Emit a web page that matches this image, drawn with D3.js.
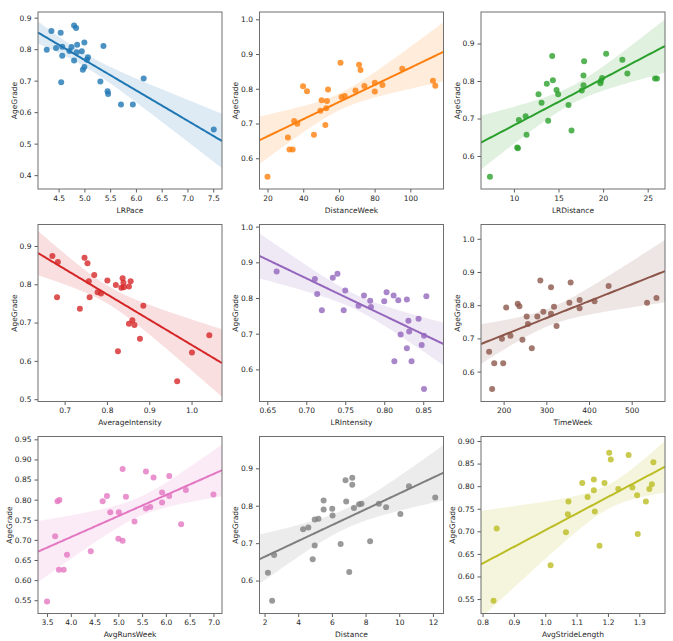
<!DOCTYPE html>
<html><head><meta charset="utf-8">
<script src="https://cdn.jsdelivr.net/npm/d3@7"></script>
<style>
body{margin:0;background:#fff;}
text{font-family:"DejaVu Sans",sans-serif;}
</style></head>
<body><svg id="c" width="673" height="641"></svg>
<script>
// ---- data ----
const lrPaceX = [4.36,4.54,4.80,4.84,4.27,4.45,4.57,4.57,4.55,4.75,4.71,4.86,4.85,4.95,5.00,4.80,4.97,5.00,5.05,5.07,5.37,5.31,5.45,5.46,5.71,5.94,6.15,7.51];
const lrPaceY = [0.858,0.852,0.875,0.867,0.798,0.804,0.808,0.779,0.695,0.807,0.794,0.814,0.790,0.793,0.821,0.764,0.735,0.743,0.766,0.774,0.810,0.697,0.666,0.658,0.624,0.624,0.707,0.545];
const distWeekX = [20.0,31.4,32.3,34.1,34.9,36.7,39.9,42.1,46.0,49.6,50.3,52.4,52.9,53.3,53.9,60.9,61.5,63.3,69.3,71.3,72.1,74.3,80.1,80.1,84.4,95.5,112.7,114.0];
const distWeekY = [0.547,0.660,0.625,0.625,0.707,0.699,0.807,0.793,0.668,0.737,0.767,0.696,0.744,0.765,0.798,0.875,0.776,0.779,0.795,0.869,0.854,0.808,0.817,0.792,0.811,0.858,0.823,0.809];
const lrDistX = [7.31,10.37,10.45,10.56,11.31,11.42,12.76,13.10,13.69,13.84,14.29,14.37,14.78,14.96,16.12,16.46,17.61,17.80,17.80,17.87,19.70,19.74,19.89,20.34,22.16,22.72,25.82,26.04];
const lrDistY = [0.545,0.623,0.621,0.696,0.706,0.657,0.765,0.742,0.793,0.694,0.867,0.802,0.776,0.765,0.736,0.668,0.775,0.789,0.815,0.853,0.794,0.800,0.808,0.873,0.857,0.820,0.807,0.807];
const avgIntX = [0.671,0.684,0.682,0.736,0.747,0.754,0.757,0.759,0.770,0.778,0.786,0.801,0.821,0.826,0.834,0.837,0.839,0.840,0.852,0.856,0.852,0.860,0.865,0.878,0.886,0.966,1.001,1.042];
const avgIntY = [0.874,0.858,0.766,0.736,0.869,0.855,0.808,0.766,0.824,0.779,0.776,0.810,0.798,0.625,0.791,0.816,0.804,0.792,0.794,0.808,0.697,0.706,0.694,0.658,0.744,0.547,0.622,0.667];
const lrIntX = [0.662,0.711,0.714,0.720,0.734,0.740,0.750,0.748,0.767,0.774,0.782,0.783,0.800,0.803,0.812,0.818,0.829,0.813,0.821,0.831,0.832,0.829,0.835,0.844,0.848,0.851,0.854,0.851];
const lrIntY = [0.874,0.853,0.811,0.766,0.857,0.868,0.821,0.766,0.778,0.807,0.792,0.775,0.791,0.816,0.807,0.794,0.796,0.623,0.698,0.736,0.706,0.659,0.623,0.742,0.668,0.694,0.805,0.545];
const timeWeekX = [166,173,178,199,196,206,216,233,237,244,254,257,266,279,286,293,311,311,318,324,354,357,378,378,413,446,536,558];
const timeWeekY = [0.660,0.548,0.625,0.625,0.699,0.793,0.708,0.804,0.797,0.696,0.766,0.743,0.670,0.766,0.874,0.780,0.774,0.854,0.795,0.737,0.807,0.868,0.816,0.791,0.812,0.858,0.807,0.822];
const runsWeekX = [3.50,3.67,3.72,3.76,3.75,3.85,3.92,4.42,4.67,4.76,4.83,5.01,5.00,5.09,5.09,5.16,5.34,5.58,5.74,5.58,5.67,5.92,5.92,6.07,6.07,6.32,6.42,7.00];
const runsWeekY = [0.547,0.709,0.796,0.799,0.626,0.626,0.663,0.672,0.796,0.809,0.769,0.769,0.703,0.698,0.876,0.807,0.746,0.870,0.855,0.778,0.782,0.818,0.793,0.859,0.809,0.739,0.824,0.813];
const distanceX = [2.20,2.45,2.57,4.29,4.60,4.86,4.98,4.98,5.20,5.51,5.51,6.02,6.04,6.52,6.81,6.85,7.03,7.21,7.21,7.31,7.62,7.76,8.27,8.79,9.22,10.07,10.58,12.14];
const distanceY = [0.621,0.546,0.668,0.737,0.742,0.657,0.763,0.694,0.765,0.814,0.790,0.792,0.774,0.698,0.868,0.811,0.623,0.875,0.856,0.794,0.804,0.805,0.705,0.805,0.796,0.778,0.852,0.822];
const strideX = [0.835,0.845,1.017,1.066,1.072,1.074,1.118,1.135,1.155,1.155,1.158,1.173,1.189,1.204,1.209,1.233,1.266,1.278,1.293,1.295,1.321,1.332,1.340,1.345];
const strideY = [0.546,0.706,0.625,0.698,0.738,0.766,0.807,0.776,0.815,0.791,0.744,0.668,0.807,0.874,0.859,0.794,0.869,0.797,0.780,0.694,0.766,0.794,0.804,0.853];

const xLabels = ["LRPace","DistanceWeek","LRDistance","AverageIntensity","LRIntensity","TimeWeek","AvgRunsWeek","Distance","AvgStrideLength"];
const xTickVals = [
  [4.5,5.0,5.5,6.0,6.5,7.0,7.5],[20,40,60,80,100],[10,15,20,25],
  [0.7,0.8,0.9,1.0],[0.65,0.70,0.75,0.80,0.85],[200,300,400,500],
  [3.5,4.0,4.5,5.0,5.5,6.0,6.5,7.0],[2,4,6,8,10,12],[0.8,0.9,1.0,1.1,1.2,1.3]];
const yTickVals = [
  [0.4,0.5,0.6,0.7,0.8,0.9],[0.6,0.7,0.8,0.9,1.0],[0.6,0.7,0.8,0.9],
  [0.5,0.6,0.7,0.8,0.9],[0.6,0.7,0.8,0.9,1.0],[0.6,0.7,0.8,0.9,1.0],
  [0.55,0.60,0.65,0.70,0.75,0.80,0.85,0.90,0.95],[0.6,0.7,0.8,0.9],[0.55,0.60,0.65,0.70,0.75,0.80,0.85,0.90]];
const xFormats = [".1f","d","d",".1f",".2f","d",".1f","d",".1f"];
const yFormats = [".1f",".1f",".1f",".1f",".1f",".1f",".2f",".1f",".2f"];
const seriesX = [lrPaceX,distWeekX,lrDistX,avgIntX,lrIntX,timeWeekX,runsWeekX,distanceX,strideX];
const seriesY = [lrPaceY,distWeekY,lrDistY,avgIntY,lrIntY,timeWeekY,runsWeekY,distanceY,strideY];

// ---- layout ----
const colors = ["#1f77b4","#ff7f0e","#2ca02c","#d62728","#9467bd","#8c564b","#e377c2","#7f7f7f","#bcbd22"];
const xDomains = [[4.10,7.67],[15.5,118.6],[6.31,26.94],[0.637,1.072],[0.640,0.876],[147,578],[3.31,7.18],[1.70,12.63],[0.795,1.382]];
const yDomains = [[0.356,0.918],[0.5115,1.021],[0.512,0.984],[0.494,0.956],[0.510,1.006],[0.51,1.043],[0.517,0.957],[0.512,0.985],[0.518,0.910]];
const colLeft = [38,259.5,481], rowTop = [12,224.5,436.5], W = 184, H = 177;
const FS = 7.5;

const svg = d3.select("#c");

// OLS fit with heteroscedasticity-robust (HC3) covariance, approximating a pairs bootstrap band
function fit(xs, ys){
  const n = xs.length, mx = d3.mean(xs), my = d3.mean(ys);
  let sxx=0, sxy=0;
  for(let i=0;i<n;i++){sxx+=(xs[i]-mx)**2; sxy+=(xs[i]-mx)*(ys[i]-my);}
  const b = sxy/sxx, a = my-b*mx;
  let m00=0, m01=0, m11=0;
  for(let i=0;i<n;i++){
    const d = xs[i]-mx, e = ys[i]-a-b*xs[i];
    const h = 1/n + d*d/sxx;
    const w = e*e/((1-h)*(1-h));
    m00 += w; m01 += w*d; m11 += w*d*d;
  }
  const v00 = m00/(n*n), v01 = m01/(n*sxx), v11 = m11/(sxx*sxx);
  return {a,b,mx,v00,v01,v11};
}

for(let p=0;p<9;p++){
  const c = p%3, r = Math.floor(p/3);
  const L = colLeft[c], T = rowTop[r];
  const g = svg.append("g").attr("transform",`translate(${L},${T})`);
  const x = d3.scaleLinear().domain(xDomains[p]).range([0,W]);
  const y = d3.scaleLinear().domain(yDomains[p]).range([H,0]);
  const col = colors[p];
  const xs = seriesX[p], ys = seriesY[p];

  const cid = "clip"+p;
  g.append("clipPath").attr("id",cid).append("rect").attr("width",W).attr("height",H);
  const plot = g.append("g").attr("clip-path",`url(#${cid})`);

  plot.selectAll("circle").data(d3.range(xs.length)).join("circle")
    .attr("cx",i=>x(xs[i])).attr("cy",i=>y(ys[i])).attr("r",3)
    .attr("fill",col).attr("fill-opacity",0.8);

  const f = fit(xs,ys);
  const z = 2.1;
  const grid = d3.range(101).map(k=>xDomains[p][0]+(xDomains[p][1]-xDomains[p][0])*k/100);
  const band = grid.map(xv=>{
    const yh = f.a+f.b*xv;
    const d = xv-f.mx;
    const se = Math.sqrt(f.v00 + 2*d*f.v01 + d*d*f.v11);
    return {xv, lo:yh-z*se, hi:yh+z*se, yh};
  });
  plot.append("path").datum(band)
    .attr("d",d3.area().x(d=>x(d.xv)).y0(d=>y(d.lo)).y1(d=>y(d.hi)))
    .attr("fill",col).attr("fill-opacity",0.15);
  plot.append("path").datum(band)
    .attr("d",d3.line().x(d=>x(d.xv)).y(d=>y(d.yh)))
    .attr("fill","none").attr("stroke",col).attr("stroke-width",2);

  const xa = g.append("g").attr("transform",`translate(0,${H})`)
    .call(d3.axisBottom(x).tickValues(xTickVals[p]).tickFormat(d3.format(xFormats[p])).tickSize(3.5).tickPadding(3));
  const ya = g.append("g")
    .call(d3.axisLeft(y).tickValues(yTickVals[p]).tickFormat(d3.format(yFormats[p])).tickSize(3.5).tickPadding(3));
  [xa,ya].forEach(a=>{
    a.select(".domain").remove();
    a.selectAll(".tick line").attr("stroke","#333").attr("stroke-width",0.8);
    a.selectAll(".tick text").attr("fill","#262626").style("font-size",FS+"px").style("font-family","DejaVu Sans");
  });

  g.append("rect").attr("width",W).attr("height",H).attr("fill","none").attr("stroke","#6f6f6f").attr("stroke-width",1);

  g.append("text").attr("x",W/2).attr("y",H+23.5).attr("text-anchor","middle")
    .attr("fill","#262626").style("font-size",FS+"px").text(xLabels[p]);
  const bb = ya.node().getBBox();
  g.append("text").attr("transform",`translate(${bb.x-3},${H/2}) rotate(-90)`).attr("text-anchor","middle")
    .attr("fill","#262626").style("font-size",FS+"px").text("AgeGrade");
}
</script></body></html>
